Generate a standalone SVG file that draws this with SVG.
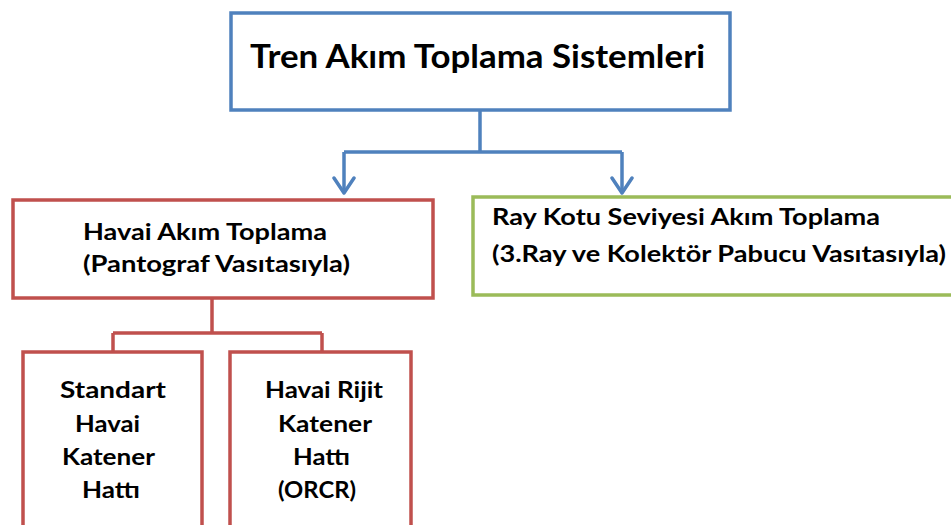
<svg xmlns="http://www.w3.org/2000/svg" width="951" height="525" viewBox="0 0 951 525">
<style>
.box{fill:#fff;stroke-width:3.5}
.blue{stroke:#4F81BD}
.red{stroke:#C0504D}
.green{stroke:#9BBB59}
.t{font-family:Lato,"Open Sans","Liberation Sans",sans-serif;font-weight:700;fill:#000}
.conn{fill:none;stroke-width:3.5;stroke-linejoin:round}
</style>
<rect width="951" height="525" fill="#fff"/>
<g id="connectors">
<path class="conn blue" d="M480,110 V152 M344,152 H622 M344,152 V193 M622,152 V193"/>
<path class="conn blue" d="M334,178 L344,193 L354,178 M612,178 L622,193 L632,178" stroke-linecap="round"/>
<path class="conn red" d="M212,298 V333 M113,333 H322 M113,333 V352 M322,333 V352"/>
</g>
<g id="root">
<rect class="box blue" x="231" y="13" width="499" height="97"/>
<text class="t" x="250" y="68" font-size="33" textLength="455" lengthAdjust="spacingAndGlyphs">Tren Akım Toplama Sistemleri</text>
</g>
<g id="havai">
<rect class="box red" x="13" y="200" width="420" height="98"/>
<text class="t" font-size="23"><tspan x="83" y="240" textLength="244" lengthAdjust="spacingAndGlyphs">Havai Akım Toplama</tspan><tspan x="83" y="272" textLength="267" lengthAdjust="spacingAndGlyphs">(Pantograf Vasıtasıyla)</tspan></text>
</g>
<g id="ray">
<rect class="box green" x="473" y="197" width="490" height="98"/>
<text class="t" font-size="23"><tspan x="492" y="225" textLength="388" lengthAdjust="spacingAndGlyphs">Ray Kotu Seviyesi Akım Toplama</tspan><tspan x="492" y="262" textLength="454" lengthAdjust="spacingAndGlyphs">(3.Ray ve Kolektör Pabucu Vasıtasıyla)</tspan></text>
</g>
<g id="standart">
<rect class="box red" x="23" y="352" width="179" height="190"/>
<text class="t" font-size="23"><tspan x="60" y="398" textLength="106" lengthAdjust="spacingAndGlyphs">Standart</tspan><tspan x="75" y="432" textLength="65" lengthAdjust="spacingAndGlyphs">Havai</tspan><tspan x="62" y="465" textLength="93" lengthAdjust="spacingAndGlyphs">Katener</tspan><tspan x="82" y="498" textLength="58" lengthAdjust="spacingAndGlyphs">Hattı</tspan></text>
</g>
<g id="rijit">
<rect class="box red" x="230" y="352" width="181" height="190"/>
<text class="t" font-size="23"><tspan x="265" y="398" textLength="118" lengthAdjust="spacingAndGlyphs">Havai Rijit</tspan><tspan x="278" y="432" textLength="94" lengthAdjust="spacingAndGlyphs">Katener</tspan><tspan x="293" y="465" textLength="57" lengthAdjust="spacingAndGlyphs">Hattı</tspan><tspan x="278" y="498" textLength="78" lengthAdjust="spacingAndGlyphs">(ORCR)</tspan></text>
</g>
</svg>
